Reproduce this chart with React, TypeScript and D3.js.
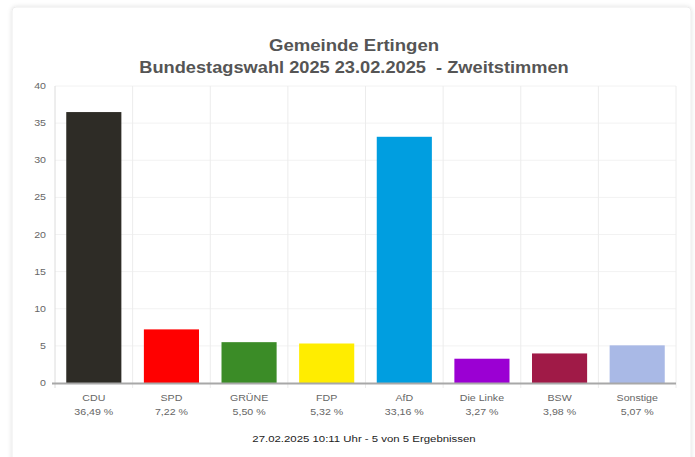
import * as d3 from "d3";
import {useEffect, useRef} from "react";

const parties = ["CDU", "SPD", "GRÜNE", "FDP", "AfD", "Die Linke", "BSW", "Sonstige"];
const shares = [36.49, 7.22, 5.50, 5.32, 33.16, 3.27, 3.98, 5.07];
const shareLabels = ["36,49 %", "7,22 %", "5,50 %", "5,32 %", "33,16 %", "3,27 %", "3,98 %", "5,07 %"];
const colors = ["#2e2c26", "#ff0000", "#3b8c27", "#ffed00", "#009ee0", "#9b00d3", "#a01a47", "#a9b9e6"];
const yTicks = [0, 5, 10, 15, 20, 25, 30, 35, 40];

const W = 695;
const H = 457;
const margin = {left: 55, right: 19, top: 86, bottom: 74};
const FONT = "Liberation Sans, Arial, sans-serif";
// the source picture is a bit stretched sideways
const SX = 1.18;

const App = () => {
    const ref = useRef(null);

    useEffect(() => {
        const svg = d3.select(ref.current);
        svg.selectAll("*").remove();

        const defs = svg.append("defs");
        const f = defs.append("filter").attr("id", "shadow").attr("x", "-5%").attr("y", "-5%").attr("width", "110%").attr("height", "110%");
        f.append("feDropShadow").attr("dx", 0).attr("dy", 0).attr("stdDeviation", 2).attr("flood-color", "#000").attr("flood-opacity", 0.12);

        // card
        svg.append("rect")
            .attr("x", 12).attr("y", 7)
            .attr("width", 679).attr("height", 460)
            .attr("rx", 4)
            .attr("fill", "#fff")
            .attr("stroke", "#ececec")
            .attr("filter", "url(#shadow)");

        const x = d3.scaleBand()
            .domain(parties)
            .range([margin.left, W - margin.right])
            .paddingInner(0.29)
            .paddingOuter(0.145);

        const y = d3.scaleLinear()
            .domain([0, 40])
            .range([H - margin.bottom, margin.top]);

        const step = x.step();
        const plotLeft = margin.left;
        const plotRight = W - margin.right;
        const cx = (i) => x(parties[i]) + x.bandwidth() / 2;

        // horizontal grid
        svg.append("g")
            .selectAll("line")
            .data(yTicks.slice(1))
            .enter()
            .append("line")
            .attr("x1", plotLeft).attr("x2", plotRight)
            .attr("y1", d => y(d)).attr("y2", d => y(d))
            .attr("stroke", "#f2f2f2")
            .attr("stroke-width", 1);

        // vertical grid at category boundaries
        const bounds = d3.range(parties.length + 1).map(i => plotLeft + i * step);
        svg.append("g")
            .selectAll("line")
            .data(bounds)
            .enter()
            .append("line")
            .attr("x1", d => d).attr("x2", d => d)
            .attr("y1", y(40)).attr("y2", y(0) + 5)
            .attr("stroke", (d, i) => i === 0 ? "#dcdcdc" : "#ececec")
            .attr("stroke-width", 1);

        // y tick labels
        svg.append("g")
            .selectAll("text")
            .data(yTicks)
            .enter()
            .append("text")
            .attr("transform", d => `translate(46,${y(d) + 3}) scale(${SX},1)`)
            .attr("text-anchor", "end")
            .attr("font-family", FONT)
            .attr("font-size", 9)
            .attr("fill", "#666")
            .text(d => d);

        // bars
        svg.append("g")
            .selectAll("rect")
            .data(shares)
            .enter()
            .append("rect")
            .attr("x", (d, i) => x(parties[i]))
            .attr("y", d => y(d))
            .attr("width", x.bandwidth())
            .attr("height", d => y(0) - y(d))
            .attr("fill", (d, i) => colors[i]);

        // baseline
        svg.append("line")
            .attr("x1", plotLeft - 3).attr("x2", plotRight)
            .attr("y1", y(0) + 0.5).attr("y2", y(0) + 0.5)
            .attr("stroke", "#a8a8a8")
            .attr("stroke-width", 2);

        // category labels
        const lab = svg.append("g")
            .attr("font-family", FONT)
            .attr("font-size", 9)
            .attr("fill", "#666")
            .attr("text-anchor", "middle");
        lab.selectAll("text.name")
            .data(parties)
            .enter()
            .append("text")
            .attr("class", "name")
            .attr("transform", (d, i) => `translate(${cx(i)},401) scale(${SX},1)`)
            .text(d => d);
        lab.selectAll("text.pct")
            .data(shareLabels)
            .enter()
            .append("text")
            .attr("class", "pct")
            .attr("transform", (d, i) => `translate(${cx(i)},415) scale(${SX},1)`)
            .text(d => d);

        // titles
        const t = svg.append("g")
            .attr("font-family", FONT)
            .attr("font-weight", "bold")
            .attr("font-size", 16)
            .attr("fill", "#555")
            .attr("text-anchor", "middle");
        t.append("text")
            .attr("transform", "translate(354,51) scale(1.16,1)")
            .text("Gemeinde Ertingen");
        t.append("text")
            .attr("transform", "translate(354,73) scale(1.14,1)")
            .attr("xml:space", "preserve")
            .text("Bundestagswahl 2025 23.02.2025  - Zweitstimmen");

        // footer
        svg.append("text")
            .attr("transform", "translate(364,442) scale(1.2,1)")
            .attr("text-anchor", "middle")
            .attr("font-family", FONT)
            .attr("font-size", 9.5)
            .attr("fill", "#222")
            .text("27.02.2025 10:11 Uhr - 5 von 5 Ergebnissen");
    }, []);

    return (
        <svg
            ref={ref}
            width={W}
            height={H}
            style={{position: "absolute", left: 0, top: 0, display: "block"}}>
        </svg>
    );
};

export default App;
